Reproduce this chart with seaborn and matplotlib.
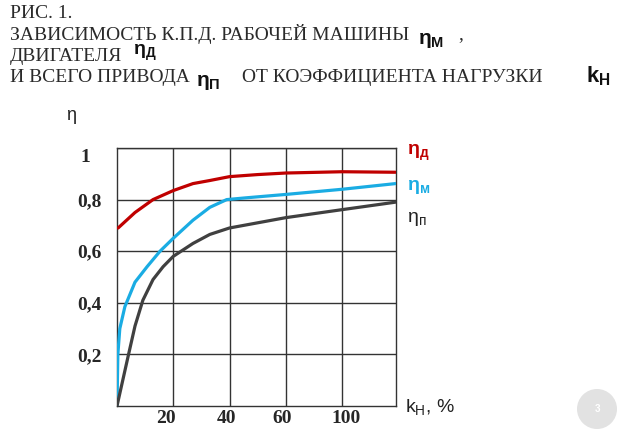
import matplotlib
matplotlib.use("Agg")
import matplotlib.pyplot as plt
import matplotlib.transforms as mtrans
import seaborn as sns
import pandas as pd
from matplotlib.patches import Ellipse

# ---- data (k_н in grid units of 20 %, efficiency η) ----
x_d = [0.4, 6.4, 12.8, 20, 27, 33, 40, 50, 60, 80, 99]
eta_d = [0.69, 0.75, 0.80, 0.835, 0.862, 0.874, 0.889, 0.897, 0.903, 0.908, 0.906]

x_m = [0, 0.3, 1.0, 2.8, 6.4, 10.7, 15.3, 20, 27, 33, 39, 46, 60, 80, 99]
eta_m = [0.0, 0.2, 0.3, 0.385, 0.48, 0.54, 0.60, 0.65, 0.72, 0.77, 0.80, 0.807, 0.82, 0.84, 0.862]

x_p = [0, 3.9, 6.4, 9.2, 12.8, 16.4, 20, 27, 33, 40, 60, 80, 99]
eta_p = [0.0, 0.19, 0.31, 0.41, 0.49, 0.54, 0.58, 0.63, 0.665, 0.69, 0.73, 0.761, 0.79]

x_ticks = [20, 40, 60, 80]
x_tick_labels = ["20", "40", "60", "100"]
y_ticks = [0.2, 0.4, 0.6, 0.8, 1.0]
y_tick_labels = ["0,2", "0,4", "0,6", "0,8", "1"]

RED = "#C00000"
BLUE = "#1AACE3"
GRAY = "#404040"

sns.set_theme(style="white")
plt.rcParams["font.family"] = ["Liberation Serif", "DejaVu Serif"]

fig = plt.figure(figsize=(6.17, 4.34), dpi=100)
ax = fig.add_axes([117 / 617, 1 - 406 / 434, 279 / 617, 258 / 434])

df_d = pd.DataFrame({"x": x_d, "y": eta_d})
df_m = pd.DataFrame({"x": x_m, "y": eta_m})
df_p = pd.DataFrame({"x": x_p, "y": eta_p})
sns.lineplot(data=df_d, x="x", y="y", ax=ax, color=RED, lw=2.3, sort=False, zorder=3)
sns.lineplot(data=df_m, x="x", y="y", ax=ax, color=BLUE, lw=2.3, sort=False, zorder=3)
sns.lineplot(data=df_p, x="x", y="y", ax=ax, color=GRAY, lw=2.3, sort=False, zorder=3)

ax.set_xlim(0, 99.2)
ax.set_ylim(0, 1.0)
ax.set_xticks(x_ticks)
ax.set_xticklabels(x_tick_labels, fontweight="bold", fontsize=14)
ax.set_yticks(y_ticks)
ax.set_yticklabels(y_tick_labels, fontweight="bold", fontsize=14)
ax.tick_params(length=0)
ax.tick_params(axis="x", pad=3)
ax.tick_params(axis="y", pad=20)
for lab in ax.get_yticklabels():
    lab.set_horizontalalignment("center")

# small hand-set offsets of the tick labels as in the original drawing
x_off = [-7, -3, -4, 4]
for lab, dx in zip(ax.get_xticklabels(), x_off):
    lab.set_transform(lab.get_transform() + mtrans.ScaledTranslation(dx / 100, 0, fig.dpi_scale_trans))
y_off = [(0, 0), (0, 0), (0, 0), (0, 0), (-4, -8)]
for lab, (dx, dy) in zip(ax.get_yticklabels(), y_off):
    lab.set_transform(lab.get_transform() + mtrans.ScaledTranslation(dx / 100, dy / 100, fig.dpi_scale_trans))

ax.grid(True, color="#333333", lw=1.0)
for s in ax.spines.values():
    s.set_color("#333333")
    s.set_linewidth(1.0)
ax.set_xlabel("")
ax.set_ylabel("")

# axis labels and series labels
sans = ["Liberation Sans", "DejaVu Sans"]
fig.text(66 / 617, 1 - 115 / 434, "η", fontsize=13, family=sans, color="#222222", va="center")
fig.text(405 / 617, 1 - 408 / 434, "k$_{\\mathregular{Н}}$, %", fontsize=14, family=sans,
         color="#222222", va="center")
fig.text(407 / 617, 1 - 153 / 434, "η$_{\\mathregular{д}}$", fontsize=14, family=sans,
         color=RED, fontweight="bold", va="center")
fig.text(407 / 617, 1 - 187 / 434, "η$_{\\mathregular{м}}$", fontsize=14, family=sans,
         color=BLUE, fontweight="bold", va="center")
fig.text(407 / 617, 1 - 219 / 434, "η$_{\\mathregular{п}}$", fontsize=14, family=sans,
         color="#222222", va="center")

# title block
tc = "#2a2a2a"
fs = 14
fig.text(10 / 617, 1 - 18.5 / 434, "РИС. 1.", fontsize=fs, color=tc, va="baseline")
fig.text(10 / 617, 1 - 39.5 / 434, "ЗАВИСИМОСТЬ К.П.Д. РАБОЧЕЙ МАШИНЫ", fontsize=fs, color=tc,
         va="baseline")
fig.text(418 / 617, 1 - 40 / 434, "η$_{\\mathregular{М}}$", fontsize=15, family=sans,
         color="#111111", fontweight="bold", va="center")
fig.text(458 / 617, 1 - 39.5 / 434, ",", fontsize=fs, color=tc, va="baseline")
fig.text(10 / 617, 1 - 61 / 434, "ДВИГАТЕЛЯ", fontsize=fs, color=tc, va="baseline")
fig.text(133 / 617, 1 - 53 / 434, "η$_{\\mathregular{Д}}$", fontsize=14, family=sans,
         color="#111111", fontweight="bold", va="center")
fig.text(10 / 617, 1 - 82 / 434, "И ВСЕГО ПРИВОДА", fontsize=fs, color=tc, va="baseline")
fig.text(196 / 617, 1 - 82 / 434, "η$_{\\mathregular{П}}$", fontsize=15, family=sans,
         color="#111111", fontweight="bold", va="center")
fig.text(242 / 617, 1 - 82 / 434, "ОТ КОЭФФИЦИЕНТА НАГРУЗКИ", fontsize=fs, color=tc,
         va="baseline")
fig.text(586 / 617, 1 - 76 / 434, "k$_{\\mathregular{Н}}$", fontsize=16, family=sans,
         color="#111111", fontweight="bold", va="center")

# page-number badge
fig.add_artist(Ellipse((597 / 617, 1 - 409 / 434), 40 / 617, 40 / 434, transform=fig.transFigure,
                       facecolor="#e2e2e2", edgecolor="none"))
fig.text(597 / 617, 1 - 409 / 434, "3", fontsize=7, color="white", ha="center", va="center",
         family=sans, fontweight="bold")

fig.savefig("out.png", dpi=100)
